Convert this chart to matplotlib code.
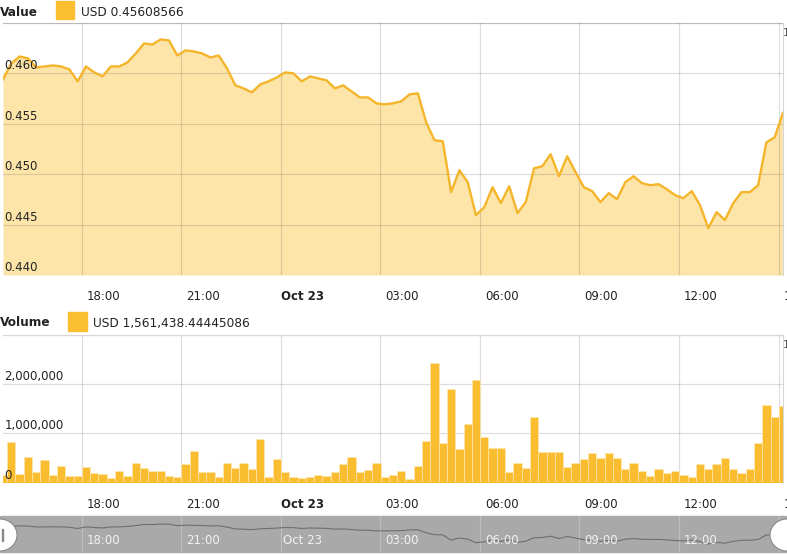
import numpy as np
import pandas as pd
import matplotlib
matplotlib.use('Agg')
import matplotlib.pyplot as plt
from matplotlib.transforms import ScaledTranslation, blended_transform_factory
from matplotlib.patches import Rectangle, Ellipse

# 15 minute points, Oct 22 15:38 -> Oct 23 15:08
times = pd.date_range('2017-10-22 15:38', periods=95, freq='15min')

price = [0.45941, 0.46099, 0.46168, 0.46149, 0.46059, 0.46069, 0.46079, 0.46069,
         0.46040, 0.45921, 0.46069, 0.46010, 0.45970, 0.46069, 0.46069, 0.46109,
         0.46198, 0.46297, 0.46287, 0.46337, 0.46327, 0.46178, 0.46228, 0.46218,
         0.46198, 0.46158, 0.46178, 0.46050, 0.45881, 0.45851, 0.45812, 0.45891,
         0.45921, 0.45960, 0.46010, 0.46000, 0.45921, 0.45970, 0.45950, 0.45931,
         0.45851, 0.45881, 0.45822, 0.45762, 0.45762, 0.45703, 0.45693, 0.45703,
         0.45723, 0.45792, 0.45802, 0.45515, 0.45337, 0.45327, 0.44822, 0.45040,
         0.44921, 0.44594, 0.44673, 0.44871, 0.44713, 0.44881, 0.44614, 0.44723,
         0.45059, 0.45079, 0.45198, 0.44980, 0.45178, 0.45020, 0.44871, 0.44832,
         0.44723, 0.44812, 0.44752, 0.44921, 0.44980, 0.44911, 0.44891, 0.44901,
         0.44851, 0.44792, 0.44762, 0.44832, 0.44693, 0.44465, 0.44624, 0.44545,
         0.44713, 0.44822, 0.44822, 0.44891, 0.45317, 0.45366, 0.45608566]

# volume in millions of USD
volume_m = [0.15, 0.82, 0.18, 0.53, 0.22, 0.46, 0.16, 0.34, 0.14, 0.14, 0.32, 0.19,
            0.17, 0.09, 0.23, 0.14, 0.41, 0.30, 0.24, 0.24, 0.14, 0.12, 0.37, 0.64,
            0.21, 0.21, 0.12, 0.39, 0.29, 0.39, 0.28, 0.88, 0.12, 0.48, 0.21, 0.12,
            0.09, 0.11, 0.16, 0.14, 0.22, 0.37, 0.53, 0.21, 0.26, 0.39, 0.12, 0.16,
            0.24, 0.07, 0.34, 0.85, 2.44, 0.80, 1.91, 0.68, 1.20, 2.08, 0.92, 0.71,
            0.71, 0.22, 0.39, 0.29, 1.33, 0.62, 0.62, 0.62, 0.32, 0.41, 0.49, 0.60,
            0.51, 0.60, 0.51, 0.27, 0.41, 0.24, 0.14, 0.27, 0.19, 0.24, 0.16, 0.11,
            0.37, 0.27, 0.37, 0.51, 0.27, 0.20, 0.27, 0.80, 1.58, 1.33, 1.561438]

grid_times = pd.date_range('2017-10-22 18:00', periods=8, freq='3h')
tick_labels = ['18:00', '21:00', 'Oct 23', '03:00', '06:00', '09:00', '12:00', '15:00']
price_ticks = [0.440, 0.445, 0.450, 0.455, 0.460]
price_tick_labels = ['0.440', '0.445', '0.450', '0.455', '0.460']
vol_ticks = [0, 1, 2]
vol_tick_labels = ['0', '1,000,000', '2,000,000']

ref = pd.Timestamp('2017-10-22 18:00')
hours = (times - ref) / pd.Timedelta('1h')
grid_hours = (grid_times - ref) / pd.Timedelta('1h')

W, H = 787, 554
LINE = '#f5b52b'
FILL = '#fde5aa'
BAR = '#f9bd2f'
GRID = '#000000'
plt.rcParams['font.family'] = 'DejaVu Sans'

fig = plt.figure(figsize=(W / 100, H / 100), dpi=100)


def px_axes(l, t, r, b):
    return fig.add_axes([l / W, 1 - b / H, (r - l) / W, (b - t) / H])


def fig_xy(x, y):
    return x / W, 1 - y / H


shift = ScaledTranslation(0.22, 0, fig.dpi_scale_trans)
xlim = (hours[0], hours[-1])

# ---- price panel
ax1 = px_axes(3, 23, 783, 275)
ax1.fill_between(hours, price, 0.44, color=FILL, lw=0, zorder=1)
ax1.plot(hours, price, color=LINE, lw=1.7, zorder=3)
ax1.set_xlim(*xlim)
ax1.set_ylim(0.440, 0.465)
ax1.set_yticks(price_ticks + [0.465])
ax1.set_yticklabels([])
ax1.set_xticks(grid_hours)
ax1.set_axisbelow(False)
ax1.grid(True, color=GRID, alpha=0.13, lw=0.9)
ax1.tick_params(length=0, pad=11, labelsize=8.5, colors='#222222')
ax1.set_xticklabels(tick_labels)
for lab in ax1.get_xticklabels():
    lab.set_transform(lab.get_transform() + shift)
    if lab.get_text() == 'Oct 23':
        lab.set_fontweight('bold')
for s in ['left', 'bottom']:
    ax1.spines[s].set_visible(False)
for s in ['top', 'right']:
    ax1.spines[s].set_color('#d6d6d6')
ytr = ax1.get_yaxis_transform()
for v, t in zip(price_ticks, price_tick_labels):
    ax1.text(0.002, v + 0.0001, t, transform=ytr, ha='left', va='bottom',
             fontsize=8.5, color='#222222', zorder=4)

# ---- volume panel
ax2 = px_axes(3, 335, 783, 482.7)
ax2.bar(hours, volume_m, width=0.25, color=BAR, edgecolor='#fde7b0', linewidth=0.5, zorder=2)
ax2.axhline(0, color=BAR, lw=2.2, zorder=3)
ax2.set_xlim(*xlim)
ax2.set_ylim(0, 3)
ax2.set_yticks([0, 1, 2, 3])
ax2.set_yticklabels([])
ax2.set_xticks(grid_hours)
ax2.grid(True, color=GRID, alpha=0.13, lw=0.9, zorder=0)
ax2.set_axisbelow(True)
ax2.tick_params(length=0, pad=11, labelsize=8.5, colors='#222222')
ax2.set_xticklabels(tick_labels)
for lab in ax2.get_xticklabels():
    lab.set_transform(lab.get_transform() + shift)
    if lab.get_text() == 'Oct 23':
        lab.set_fontweight('bold')
for s in ['left', 'bottom']:
    ax2.spines[s].set_visible(False)
for s in ['top', 'right']:
    ax2.spines[s].set_color('#d6d6d6')
ytr2 = ax2.get_yaxis_transform()
for v, t in zip(vol_ticks, vol_tick_labels):
    ax2.text(0.002, v + 0.02, t, transform=ytr2, ha='left', va='bottom',
             fontsize=8.5, color='#222222', zorder=4)

# ---- headers
fig.text(*fig_xy(0, 12), 'Value', fontsize=8.7, fontweight='bold', va='center', color='#222222')
fig.patches.append(Rectangle(fig_xy(56, 19), 18 / W, 18 / H, transform=fig.transFigure,
                             color='#fbbe30', figure=fig))
fig.text(*fig_xy(81, 12), 'USD 0.45608566', fontsize=8.7, va='center', color='#222222')
fig.text(*fig_xy(0, 323), 'Volume', fontsize=8.7, fontweight='bold', va='center', color='#222222')
fig.patches.append(Rectangle(fig_xy(68, 331), 19 / W, 19 / H, transform=fig.transFigure,
                             color='#fbbe30', figure=fig))
fig.text(*fig_xy(93, 323), 'USD 1,561,438.44445086', fontsize=8.7, va='center', color='#222222')
fig.text(*fig_xy(783, 33), '1', fontsize=8, va='center', color='#444444')
fig.text(*fig_xy(783, 345), '1', fontsize=8, va='center', color='#444444')

# ---- navigator
fig.patches.append(Rectangle(fig_xy(0, 552), 1, 36 / H, transform=fig.transFigure,
                             color='#a9a9a9', figure=fig, zorder=-1))
ax3 = px_axes(3, 516, 783, 552)
ax3.set_zorder(2)
ax3.set_facecolor('#a9a9a9')
ax3.plot(hours, price, color='#6e6e6e', lw=0.8)
ax3.set_xlim(*xlim)
ax3.set_ylim(0.4372, 0.4709)
ax3.set_xticks(grid_hours)
ax3.set_yticks([])
ax3.grid(True, axis='x', color='#ffffff', alpha=0.25, lw=0.8)
ax3.tick_params(length=0, labelbottom=False)
for s in ax3.spines.values():
    s.set_visible(False)
ntr = blended_transform_factory(ax3.transData, ax3.transAxes)
for h, t in zip(grid_hours, tick_labels):
    ax3.text(h + 0.66, 0.33, t, transform=ntr, ha='center', va='center',
             fontsize=8.5, color='#f2f2f2', clip_on=False)

for cx in (0, 787):
    fig.patches.append(Ellipse(fig_xy(cx, 535), 34 / W, 32 / H, transform=fig.transFigure,
                               facecolor='white', edgecolor='#8a8a8a', lw=0.8, figure=fig, zorder=5))
fig.patches.append(Rectangle(fig_xy(2, 541), 1 / W, 12 / H, transform=fig.transFigure,
                             color='#888888', figure=fig, zorder=6))

fig.savefig('out.png', dpi=100, facecolor='white')
